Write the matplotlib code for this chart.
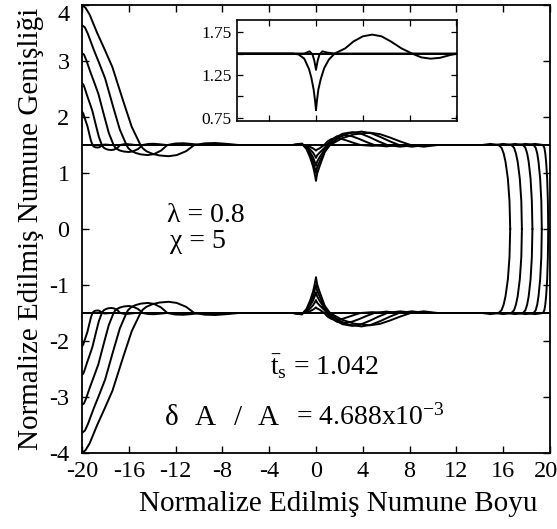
import matplotlib
matplotlib.use("Agg")
import matplotlib.pyplot as plt
from matplotlib.ticker import MultipleLocator, FixedLocator, NullFormatter
from matplotlib.transforms import ScaledTranslation

plt.rcParams["font.family"] = ["Liberation Serif", "DejaVu Serif"]
plt.rcParams["mathtext.fontset"] = "custom"
plt.rcParams["mathtext.rm"] = "Liberation Serif"
plt.rcParams["mathtext.it"] = "Liberation Serif:italic"
plt.rcParams["axes.unicode_minus"] = False

# ---- specimen half-width profiles (upper half; lower half is the mirror) ----
# initial, undeformed profile
c0_x = [-20, 20]
c0_y = [1.5, 1.5]

c1_x = [-20, -19.883, -19.766, -19.649, -19.532, -19.37, -19.235, -19.1,
        -19.06, -19.01, -18.92, -18.81, -18.67, -18.54, -18.40, -18.27,
        -18.11, -17.95, -17.77, -17.59,
        -2.0, -1.2, -0.8, -0.5, -0.25, -0.1, 0, 0.1, 0.3, 0.7, 1.0, 1.3, 1.7,
        2.225, 2.75, 3.275, 3.8, 4.8, 6.0,
        18.0, 18.7, 19.1, 19.4, 19.52, 19.6, 19.67, 19.76, 19.82, 19.85]
c1_y = [2.1, 2.058, 1.98, 1.908, 1.834, 1.692, 1.578, 1.5,
        1.4865, 1.475, 1.465, 1.458, 1.455, 1.4595, 1.475, 1.5,
        1.507, 1.508, 1.5045, 1.5,
        1.5, 1.504, 1.488, 1.465, 1.44, 1.418, 1.40, 1.42, 1.44, 1.5, 1.566, 1.604, 1.62,
        1.606, 1.572, 1.534, 1.5, 1.485, 1.5,
        1.5, 1.52, 1.51, 1.5, 1.45, 1.35, 1.2, 0.9, 0.5, 0.0]

c2_x = [-20, -19.89, -19.779, -19.558, -19.337, -19.116, -18.81, -18.555, -18.3,
        -18.23, -18.13, -17.96, -17.76, -17.48, -17.25, -16.97, -16.74,
        -16.43, -16.12, -15.78, -15.44,
        -2.0, -1.2, -0.8, -0.5, -0.25, -0.1, 0, 0.1, 0.3, 0.75, 0.9, 1.35, 1.8,
        2.4, 3.05, 3.7, 4.35, 5.0, 6.0, 7.2,
        17.2, 17.9, 18.3, 18.6, 18.78, 18.91, 19.02, 19.16, 19.26, 19.3]
c2_y = [2.6, 2.585, 2.523, 2.38, 2.248, 2.112, 1.852, 1.643, 1.5,
        1.473, 1.4505, 1.43, 1.416, 1.41, 1.419, 1.45, 1.5,
        1.514, 1.516, 1.509, 1.5,
        1.5, 1.509, 1.472, 1.42, 1.362, 1.311, 1.27, 1.316, 1.362, 1.454, 1.5, 1.599, 1.657,
        1.68, 1.658, 1.608, 1.55, 1.5, 1.475, 1.5,
        1.5, 1.52, 1.51, 1.5, 1.45, 1.35, 1.2, 0.9, 0.5, 0.0]

c3_x = [-20, -19.83, -19.649, -19.298, -18.947, -18.596, -18.11, -17.705, -17.3,
        -17.19, -17.03, -16.76, -16.44, -16.0, -15.63, -15.19, -14.82,
        -14.33, -13.84, -13.30, -12.76,
        -2.0, -1.2, -0.8, -0.5, -0.25, -0.1, 0, 0.1, 0.3, 0.75, 1.0, 1.63, 2.26,
        3.1, 3.85, 4.6, 5.35, 6.1, 7.2, 8.5,
        16.3, 17.0, 17.4, 17.7, 17.9, 18.05, 18.18, 18.34, 18.45, 18.5]
c3_y = [3.14, 3.115, 3.025, 2.812, 2.615, 2.412, 2.025, 1.713, 1.5,
        1.462, 1.431, 1.402, 1.384, 1.375, 1.387, 1.431, 1.5,
        1.519, 1.522, 1.512, 1.5,
        1.5, 1.515, 1.456, 1.37, 1.278, 1.197, 1.13, 1.204, 1.278, 1.426, 1.5, 1.627, 1.70,
        1.73, 1.702, 1.638, 1.564, 1.5, 1.47, 1.5,
        1.5, 1.52, 1.51, 1.5, 1.45, 1.35, 1.2, 0.9, 0.5, 0.0]

c4_x = [-20, -19.75, -19.506, -19.012, -18.518, -18.024, -17.34, -16.77, -16.2,
        -16.05, -15.82, -15.44, -14.98, -14.38, -13.84, -13.24, -12.70,
        -12.02, -11.34, -10.58, -9.82,
        -2.0, -1.2, -0.8, -0.5, -0.25, -0.1, 0, 0.1, 0.3, 0.75, 1.1, 1.94, 2.78,
        3.9, 4.7, 5.5, 6.3, 7.1, 8.2, 9.4,
        15.3, 16.0, 16.4, 16.7, 16.93, 17.09, 17.24, 17.42, 17.55, 17.6]
c4_y = [3.64, 3.60, 3.49, 3.212, 2.955, 2.69, 2.185, 1.778, 1.5,
        1.446, 1.401, 1.360, 1.333, 1.32, 1.338, 1.401, 1.5,
        1.527, 1.532, 1.518, 1.5,
        1.5, 1.52, 1.44, 1.325, 1.2, 1.09, 1.0, 1.10, 1.20, 1.40, 1.5, 1.632, 1.709,
        1.74, 1.711, 1.644, 1.567, 1.5, 1.47, 1.5,
        1.5, 1.52, 1.51, 1.5, 1.45, 1.35, 1.2, 0.9, 0.5, 0.0]

c5_x = [-20, -19.7, -19.35, -18.7, -18.05, -17.4, -16.5, -15.75, -15.0,
        -14.8, -14.5, -14.0, -13.4, -12.6, -11.9, -11.1, -10.4,
        -9.5, -8.6, -7.6, -6.6,
        -2.0, -1.2, -0.8, -0.5, -0.25, -0.1, 0, 0.1, 0.3, 0.75, 1.2, 2.22, 3.24,
        4.6, 5.47, 6.35, 7.22, 8.1, 9.2, 10.4,
        14.2, 14.9, 15.3, 15.6, 15.86, 16.04, 16.2, 16.4, 16.54, 16.6]
c5_y = [4.0, 3.95, 3.83, 3.5, 3.2, 2.89, 2.30, 1.825, 1.5,
        1.44, 1.39, 1.344, 1.314, 1.30, 1.32, 1.39, 1.5,
        1.53, 1.536, 1.52, 1.5,
        1.5, 1.526, 1.423, 1.276, 1.116, 0.975, 0.86, 0.988, 1.116, 1.372, 1.5, 1.62, 1.69,
        1.72, 1.694, 1.632, 1.562, 1.5, 1.47, 1.5,
        1.5, 1.52, 1.51, 1.5, 1.45, 1.35, 1.2, 0.9, 0.5, 0.0]

# ---- inset: close-up of the neck region ----
in_flat_x = [-6.75, 12.05]
in_flat_y = [1.5, 1.5]
in_early_x = [-6.75, -1.0, -0.55, -0.3, -0.15, -0.05, 0, 0.05, 0.15, 0.3, 0.55, 1.0, 1.6, 12.05]
in_early_y = [1.5, 1.5, 1.525, 1.49, 1.42, 1.35, 1.31, 1.35, 1.42, 1.49, 1.525, 1.51, 1.5, 1.5]
in_late_x = [-6.75, -2.0, -1.5, -1.0, -0.6, -0.4, -0.2, -0.08, 0, 0.08, 0.2, 0.4, 0.7,
             1.1, 1.6, 2.5, 3.2, 4.0, 4.8, 5.6, 6.4, 7.3, 8.2, 9.0, 9.8, 10.6, 11.4, 12.05]
in_late_y = [1.5, 1.5, 1.49, 1.44, 1.32, 1.22, 1.08, 0.95, 0.84, 0.95, 1.08, 1.2, 1.33,
             1.43, 1.5, 1.56, 1.64, 1.70, 1.72, 1.70, 1.64, 1.56, 1.5, 1.455, 1.44, 1.45, 1.48, 1.5]

x_ticks = [-20, -16, -12, -8, -4, 0, 4, 8, 12, 16, 20]
y_ticks = [-4, -3, -2, -1, 0, 1, 2, 3, 4]
inset_yticks = [0.75, 1.0, 1.25, 1.5, 1.75]
inset_ylabels = ["0.75", "", "1.25", "", "1.75"]

LW = 1.4
FS_TICK = 17.5
FS_TXT = 20

fig = plt.figure(figsize=(5.57, 5.29), dpi=100)
ax = fig.add_axes([0.1472, 0.1437, 0.8402, 0.8468])

profiles = [(c0_x, c0_y), (c1_x, c1_y), (c2_x, c2_y), (c3_x, c3_y), (c4_x, c4_y), (c5_x, c5_y)]
for px, py in profiles:
    ax.plot(px, py, color="black", lw=LW, solid_joinstyle="round")
    ax.plot(px, [-v for v in py], color="black", lw=LW, solid_joinstyle="round")

ax.set_xlim(-20, 20)
ax.set_ylim(-4, 4)
ax.set_xticks(x_ticks)
ax.set_xticklabels([str(t) for t in x_ticks])
ax.set_yticks(y_ticks)
ax.set_yticklabels([str(t) for t in y_ticks])
ax.tick_params(direction="in", length=5, width=1.0, top=True, right=True,
               labelsize=FS_TICK, pad=6)
ax.tick_params(axis="y", pad=9)
for s in ax.spines.values():
    s.set_linewidth(1.3)

# nudge the corner labels so they stay inside the figure
xl = ax.get_xticklabels()
xl[-1].set_transform(xl[-1].get_transform() + ScaledTranslation(-4 / 100, 0, fig.dpi_scale_trans))
yl = ax.get_yticklabels()
yl[-1].set_transform(yl[-1].get_transform() + ScaledTranslation(0, -8 / 100, fig.dpi_scale_trans))

ax.set_xlabel("Normalize Edilmiş Numune Boyu", fontsize=21, labelpad=5)
ax.xaxis.set_label_coords(0.547, -0.085)
ax.set_ylabel("Normalize Edilmiş Numune Genişliği", fontsize=21, labelpad=4)

ax.text(-12.7, 0.13, "λ = 0.8", fontsize=FS_TXT, ha="left", va="baseline")
ax.text(-12.5, -0.34, "χ = 5", fontsize=FS_TXT, ha="left", va="baseline")
ax.text(-3.9, -2.61, r"$\bar{\mathrm{t}}_{\mathrm{s}}$ = 1.042", fontsize=FS_TXT,
        ha="left", va="baseline")
# δA/A label, set glyph by glyph
for ch, xpos in [("δ", -12.9), ("A", -10.4), ("/", -7.0), ("A", -5.0)]:
    ax.text(xpos, -3.5, ch, fontsize=FS_TXT + 1, ha="left", va="baseline")
ax.text(-1.7, -3.5, r"= 4.688x10$^{\mathrm{-3}}$", fontsize=FS_TXT,
        ha="left", va="baseline")

# inset
ins = fig.add_axes([0.4255, 0.7713, 0.395, 0.1909])
for px, py in [(in_flat_x, in_flat_y), (in_early_x, in_early_y), (in_late_x, in_late_y)]:
    ins.plot(px, py, color="black", lw=LW)
ins.set_xlim(-6.75, 12.05)
ins.set_ylim(0.715, 1.89)
ins.xaxis.set_major_locator(MultipleLocator(4))
ins.xaxis.set_major_formatter(NullFormatter())
ins.yaxis.set_major_locator(FixedLocator(inset_yticks))
ins.set_yticklabels(inset_ylabels)
ins.tick_params(direction="in", length=4, width=0.9, top=True, right=True,
                labelsize=12.5, pad=4)
for s in ins.spines.values():
    s.set_linewidth(1.2)

fig.savefig("out.png", dpi=100)
